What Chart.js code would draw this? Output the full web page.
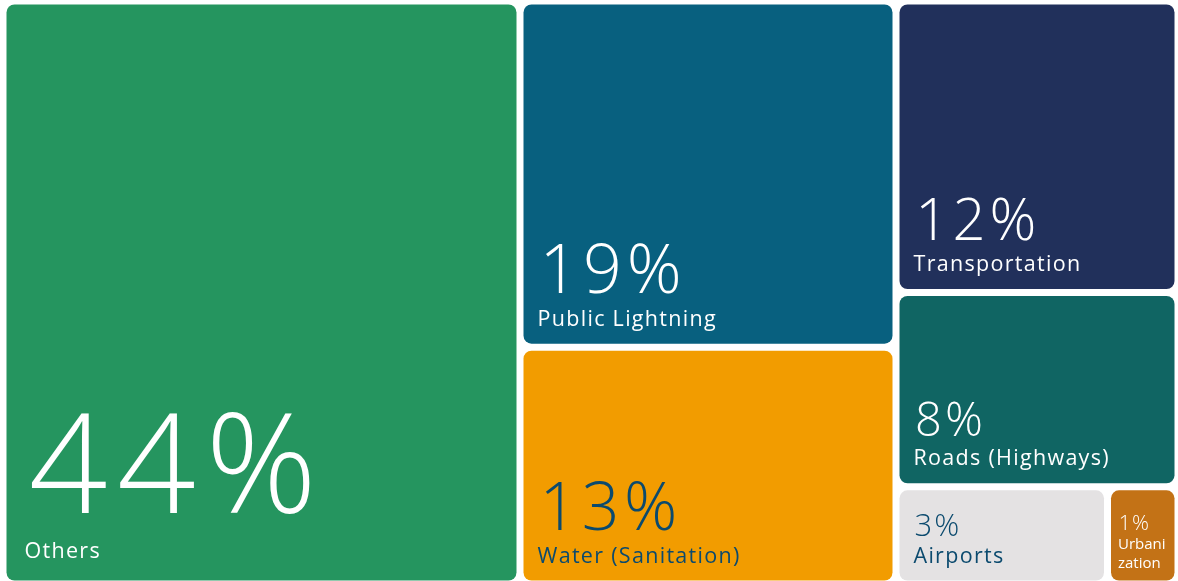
<!DOCTYPE html>
<html>
<head>
<meta charset="utf-8">
<title>Investment by sector</title>
<script src="https://cdn.jsdelivr.net/npm/chart.js@4"></script>
<style>
    html, body { margin: 0; padding: 0; background: #ffffff; overflow: hidden; }
    #wrap { position: relative; width: 1178px; height: 584px; }
</style>
</head>
<body>
<div id="wrap"><canvas id="tree"></canvas></div>
<script>
// sector shares (percent)
const sectors = ["Others", "Public Lightning", "Water (Sanitation)", "Transportation",
    "Roads (Highways)", "Airports", "Urbanization"];
const shares = [44, 19, 13, 12, 8, 3, 1];

// tile look
const tileColors = ["#25955f", "#08607f", "#f29c00", "#21305b", "#106563", "#e4e2e3", "#c37216"];
const textColors = ["#ffffff", "#ffffff", "#0b4a6e", "#ffffff", "#ffffff", "#0b4a6e", "#ffffff"];
const valueFont = [138, 68, 66, 58, 47, 31, 21];
const nameFont = [21.5, 21.5, 21.5, 21.5, 21.5, 21.5, 15];
const FONT = "'Open Sans'";
const GAP = 7;
const RADIUS = 8;

function worst(row, side) {
    let s = 0, mx = -Infinity, mn = Infinity;
    row.forEach(function (r) { s += r.area; mx = Math.max(mx, r.area); mn = Math.min(mn, r.area); });
    return Math.max(side * side * mx / (s * s), (s * s) / (side * side * mn));
}

function placeRow(row, rect, out) {
    let s = 0;
    row.forEach(function (r) { s += r.area; });
    if (rect.w >= rect.h) {
        // column along the left edge
        let colW = s / rect.h, y = rect.y;
        row.forEach(function (r) {
            let h = r.area / colW;
            out[r.i] = {x: rect.x, y: y, w: colW, h: h};
            y += h;
        });
        rect.x += colW; rect.w -= colW;
    } else {
        // row along the top edge
        let rowH = s / rect.w, x = rect.x;
        row.forEach(function (r) {
            let w = r.area / rowH;
            out[r.i] = {x: x, y: rect.y, w: w, h: rowH};
            x += w;
        });
        rect.y += rowH; rect.h -= rowH;
    }
}

// squarified treemap layout
function squarify(values, rect) {
    let total = values.reduce(function (a, b) { return a + b; }, 0);
    let items = values.map(function (v, i) { return {i: i, area: v / total * rect.w * rect.h}; });
    let out = [];
    let row = [];
    while (items.length) {
        let side = Math.min(rect.w, rect.h);
        let next = items[0];
        if (row.length === 0 || worst(row.concat([next]), side) <= worst(row, side)) {
            row.push(next);
            items.shift();
        } else {
            placeRow(row, rect, out);
            row = [];
        }
    }
    if (row.length) placeRow(row, rect, out);
    return out;
}

function wrapName(ctx, text, maxW) {
    let lines = [];
    text.split(" ").forEach(function (word) {
        let last = lines.length ? lines[lines.length - 1] : null;
        if (last !== null && ctx.measureText(last + " " + word).width <= maxW) {
            lines[lines.length - 1] = last + " " + word;
            return;
        }
        // break long words by character
        let cur = "";
        for (let c of word) {
            if (cur && ctx.measureText(cur + c).width > maxW) {
                lines.push(cur);
                cur = "";
            }
            cur += c;
        }
        lines.push(cur);
    });
    return lines;
}

const treemapTiles = {
    id: 'treemapTiles',
    afterDatasetsDraw(chart) {
        const ctx = chart.ctx;
        const xs = chart.scales.x, ys = chart.scales.y;
        const left = xs.getPixelForValue(0), right = xs.getPixelForValue(100);
        const top = ys.getPixelForValue(100), bottom = ys.getPixelForValue(0);
        const rects = squarify(shares, {x: left, y: top, w: right - left, h: bottom - top});

        ctx.save();
        rects.forEach(function (r, i) {
            let x = r.x + GAP / 2, y = r.y + GAP / 2, w = r.w - GAP, h = r.h - GAP;
            ctx.fillStyle = tileColors[i];
            ctx.beginPath();
            ctx.roundRect(x, y, w, h, RADIUS);
            ctx.fill();

            let small = w < 100;
            let pad = i === 0 ? 18 : (small ? 7 : 14);
            ctx.fillStyle = textColors[i];
            ctx.textAlign = 'left';
            ctx.textBaseline = 'alphabetic';

            ctx.font = '400 ' + nameFont[i] + 'px ' + FONT;
            ctx.letterSpacing = (small ? 0 : 1.3) + 'px';
            let lines = wrapName(ctx, sectors[i], w - pad - 2);
            let lineH = nameFont[i] * 1.25;
            let base = y + h - (i === 0 ? 23 : (small ? 13 : 18));
            for (let k = lines.length - 1; k >= 0; k--) {
                ctx.fillText(lines[k], x + pad, base);
                base -= lineH;
            }
            base += lineH;

            ctx.font = '300 ' + valueFont[i] + 'px ' + FONT;
            ctx.letterSpacing = (valueFont[i] * 0.07) + 'px';
            ctx.fillText(shares[i] + '%', x + pad + valueFont[i] * 0.03,
                base - nameFont[i] - valueFont[i] * 0.17);
        });
        ctx.restore();
    }
};

new Chart(document.getElementById('tree'), {
    type: 'scatter',
    data: { datasets: [{ data: [] }] },
    options: {
        responsive: true,
        maintainAspectRatio: false,
        animation: false,
        layout: { padding: { left: 3, top: 1, right: 0, bottom: 0 } },
        scales: {
            x: { type: 'linear', min: 0, max: 100, display: false },
            y: { type: 'linear', min: 0, max: 100, display: false }
        },
        plugins: { legend: { display: false }, tooltip: { enabled: false } }
    },
    plugins: [treemapTiles]
});
</script>
</body>
</html>
